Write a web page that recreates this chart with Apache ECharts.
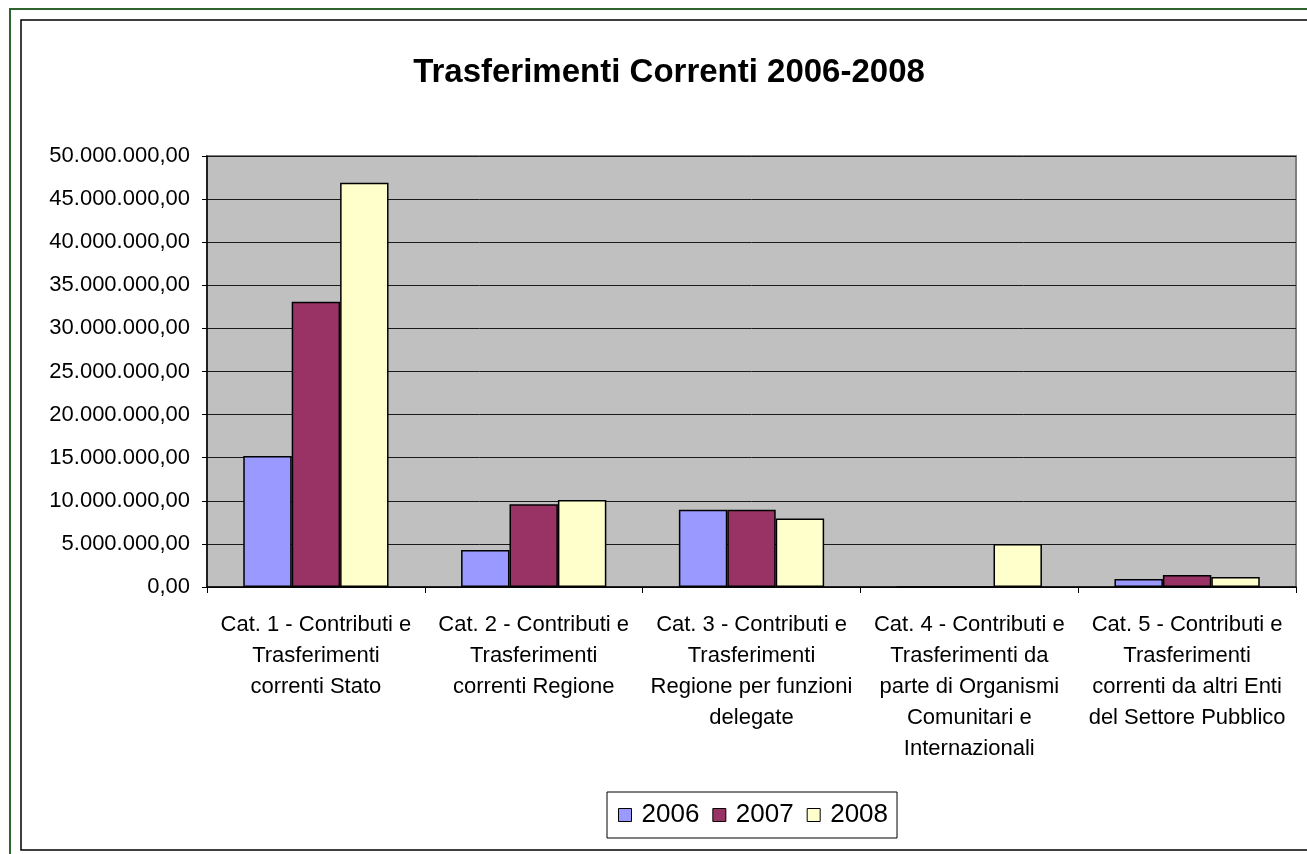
<!DOCTYPE html>
<html>
<head>
<meta charset="utf-8">
<title>Trasferimenti Correnti 2006-2008</title>
<script src="https://cdn.jsdelivr.net/npm/echarts@6/dist/echarts.min.js"></script>
<style>
  html, body { margin: 0; padding: 0; background: #fff; }
  #chart { width: 1307px; height: 854px; }
</style>
</head>
<body>
<div id="chart"></div>
<script>
// categorie (a capo come nel grafico Excel)
var categories = [
  "Cat. 1 - Contributi e\nTrasferimenti\ncorrenti Stato",
  "Cat. 2 - Contributi e\nTrasferimenti\ncorrenti Regione",
  "Cat. 3 - Contributi e\nTrasferimenti\nRegione per funzioni\ndelegate",
  "Cat. 4 - Contributi e\nTrasferimenti da\nparte di Organismi\nComunitari e\nInternazionali",
  "Cat. 5 - Contributi e\nTrasferimenti\ncorrenti da altri Enti\ndel Settore Pubblico"
];
var years = ["2006", "2007", "2008"];
var values2006 = [15200000, 4300000, 8950000, 0, 930000];
var values2007 = [33100000, 9600000, 8950000, 0, 1400000];
var values2008 = [46900000, 10100000, 7950000, 4980000, 1160000];
var yMin = 0, yMax = 50000000, yStep = 5000000;

var colors = ["#9999FF", "#993366", "#FFFFCC"];
var font = "'Liberation Sans', Arial, sans-serif";

// 50000000 -> "50.000.000,00"
function fmt(v) {
  var s = String(Math.round(v));
  s = s.replace(/\B(?=(\d{3})+(?!\d))/g, ".");
  return s + ",00";
}

var myChart = echarts.init(document.getElementById("chart"));

var option = {
  backgroundColor: "#fff",
  animation: false,
  textStyle: { fontFamily: font },
  title: {
    text: "Trasferimenti Correnti 2006-2008",
    left: 664,
    top: 51,
    textAlign: "center",
    textStyle: { fontFamily: font, fontSize: 33, fontWeight: "bold", color: "#000" }
  },
  // cornice del grafico
  graphic: [
    {
      type: "rect",
      shape: { x: 10, y: 9, width: 1320, height: 860 },
      style: { fill: "none", stroke: "#2E642E", lineWidth: 2 },
      silent: true
    },
    {
      type: "rect",
      shape: { x: 21, y: 20, width: 1310, height: 830 },
      style: { fill: "none", stroke: "#000", lineWidth: 1.5 },
      silent: true
    }
  ],
  legend: {
    data: years,
    left: 607,
    top: 792,
    orient: "horizontal",
    padding: [10, 9, 10, 11],
    borderColor: "#000",
    borderWidth: 1,
    icon: "rect",
    itemWidth: 13,
    itemHeight: 13,
    itemGap: 13,
    itemStyle: { borderColor: "#000", borderWidth: 1 },
    textStyle: { fontFamily: font, fontSize: 26, color: "#000", padding: [0, 0, 0, 5] }
  },
  grid: {
    left: 207,
    right: 11,
    top: 156,
    bottom: 267,
    show: true,
    backgroundColor: "#C0C0C0",
    borderColor: "#808080",
    borderWidth: 2
  },
  xAxis: {
    type: "category",
    data: categories,
    axisLine: { show: true, lineStyle: { color: "#000", width: 1.5 } },
    axisTick: { show: true, length: 6, lineStyle: { color: "#000" } },
    axisLabel: {
      interval: 0,
      margin: 22,
      color: "#000",
      fontFamily: font,
      fontSize: 22,
      lineHeight: 31,
      align: "center"
    },
    z: 10
  },
  yAxis: {
    type: "value",
    min: yMin,
    max: yMax,
    interval: yStep,
    axisLine: { show: true, lineStyle: { color: "#000", width: 1.5 } },
    axisTick: { show: true, length: 5, lineStyle: { color: "#000" } },
    axisLabel: {
      margin: 17,
      color: "#000",
      fontFamily: font,
      fontSize: 22,
      formatter: fmt
    },
    splitLine: { show: true, lineStyle: { color: "#1a1a1a", width: 1 } }
  },
  series: [
    {
      name: years[0],
      type: "bar",
      data: values2006,
      barGap: "0%",
      barCategoryGap: "33.3%",
      itemStyle: { color: colors[0], borderColor: "#000", borderWidth: 1.5 }
    },
    {
      name: years[1],
      type: "bar",
      data: values2007,
      barGap: "0%",
      barCategoryGap: "33.3%",
      itemStyle: { color: colors[1], borderColor: "#000", borderWidth: 1.5 }
    },
    {
      name: years[2],
      type: "bar",
      data: values2008,
      barGap: "0%",
      barCategoryGap: "33.3%",
      itemStyle: { color: colors[2], borderColor: "#000", borderWidth: 1.5 }
    }
  ]
};

myChart.setOption(option);
</script>
</body>
</html>
